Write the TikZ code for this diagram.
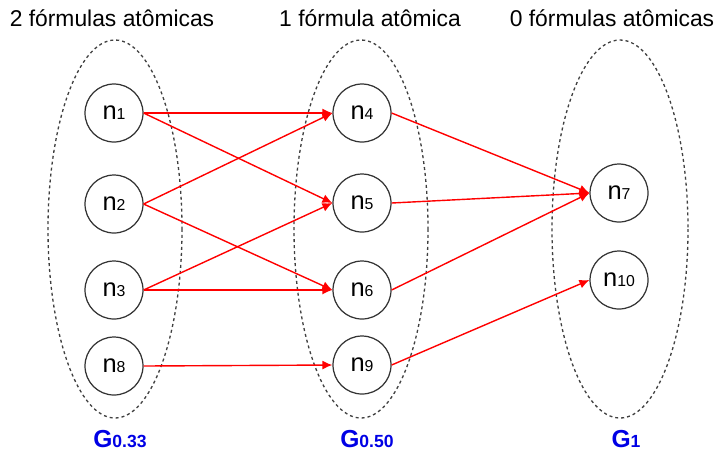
\documentclass[tikz,border=0pt]{standalone}
\usepackage{fontspec}
\setmainfont{Liberation Sans}
\usepackage{tikz}
\usetikzlibrary{arrows.meta,calc,positioning,shapes.geometric}

\newcommand{\nlbl}[1]{{\fontsize{14.5}{14}\selectfont n}{\fontsize{9}{9}\selectfont #1}}
\newcommand{\glbl}[1]{{\fontsize{14}{14}\selectfont G}{\fontsize{10}{10}\selectfont #1}}

\begin{document}
\begin{tikzpicture}[
  x=0.02cm, y=-0.02cm,
  every node/.style={font=\fontsize{13}{15}\selectfont},
  nd/.style={circle, draw=black!80, line width=0.7pt, minimum size=1.16cm, inner sep=0pt},
  grp/.style={draw=black!75, dashed, dash pattern=on 1.7pt off 1.7pt, line width=0.75pt},
  arr/.style={-{Latex[length=2mm, width=1.8mm]}, draw=red, line width=0.8pt},
  glb/.style={text=blue!90!black, font=\bfseries},
]
\useasboundingbox (0,0) rectangle (715,454);

%% ── Groups ──────────────────────────────────────────────────────────────
\draw[grp] (115,229) ellipse [x radius=67, y radius=189];
\draw[grp] (361,229) ellipse [x radius=67, y radius=189];
\draw[grp] (620,229) ellipse [x radius=68, y radius=189];

\node (t1) at (112,18) {2 fórmulas atômicas};
\node (t2) at (370,18) {1 fórmula atômica};
\node (t3) at (612,18) {0 fórmulas atômicas};

%% ── Nodes ───────────────────────────────────────────────────────────────
\node[nd] (n1)  at (114,113) {\nlbl{1}};
\node[nd] (n2)  at (114,204) {\nlbl{2}};
\node[nd] (n3)  at (114,290) {\nlbl{3}};
\node[nd] (n8)  at (114,366) {\nlbl{8}};
\node[nd] (n4)  at (362,113) {\nlbl{4}};
\node[nd] (n5)  at (362,203) {\nlbl{5}};
\node[nd] (n6)  at (362,290) {\nlbl{6}};
\node[nd] (n9)  at (362,365) {\nlbl{9}};
\node[nd] (n7)  at (619,193) {\nlbl{7}};
\node[nd] (n10) at (619,280) {\nlbl{10}};

%% ── Edges ───────────────────────────────────────────────────────────────
\draw[arr] (n1.east) -- (n4.west);
\draw[arr] (n1.east) -- (n5.west);
\draw[arr] (n2.east) -- (n4.west);
\draw[arr] (n2.east) -- (n6.west);
\draw[arr] (n3.east) -- (n5.west);
\draw[arr] (n3.east) -- (n6.west);
\draw[arr] (n8.east) -- (n9.west);
\draw[arr] (n4.east) -- (n7.west);
\draw[arr] (n5.east) -- (n7.west);
\draw[arr] (n6.east) -- (n7.west);
\draw[arr] (n9.east) -- (n10.west);

%% ── Group labels ────────────────────────────────────────────────────────
\node[glb] (g033) at (120,439) {\glbl{0.33}};
\node[glb] (g050) at (367,439) {\glbl{0.50}};
\node[glb] (g1)   at (626,439) {\glbl{1}};
\end{tikzpicture}
\end{document}
